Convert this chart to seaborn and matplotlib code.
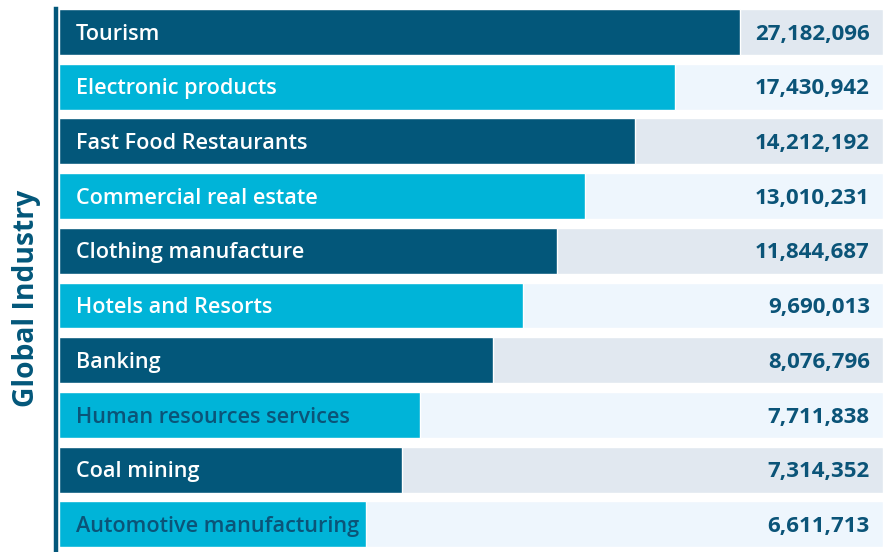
import matplotlib
matplotlib.use("Agg")
import matplotlib.pyplot as plt
import seaborn as sns
import pandas as pd

industries = [
    "Tourism",
    "Electronic products",
    "Fast Food Restaurants",
    "Commercial real estate",
    "Clothing manufacture",
    "Hotels and Resorts",
    "Banking",
    "Human resources services",
    "Coal mining",
    "Automotive manufacturing",
]
totals = [27182096, 17430942, 14212192, 13010231, 11844687,
          9690013, 8076796, 7711838, 7314352, 6611713]
# bar lengths as drawn, in % of the full row width
bar_share = [82.7, 74.8, 69.9, 63.8, 60.4, 56.3, 52.7, 43.8, 41.6, 37.3]

DARK = "#03577a"
CYAN = "#00b4d8"
BAND_DARK = "#e1e8f0"
BAND_LIGHT = "#eef6fd"
TEXT_DARK = "#0b5478"

df = pd.DataFrame({"industry": industries, "total": totals, "share": bar_share})
df["tone"] = ["dark" if i % 2 == 0 else "light" for i in range(len(df))]
df["full"] = 100

sns.set_theme(style="white")
plt.rcParams["font.family"] = ["Open Sans", "DejaVu Sans"]

fig = plt.figure(figsize=(8.85, 5.52), dpi=100)
ax = fig.add_axes([59 / 885, 0, 824 / 885, 1])

# background bands
sns.barplot(data=df, y="industry", x="full", hue="tone", dodge=False,
            palette={"dark": BAND_DARK, "light": BAND_LIGHT},
            width=0.84, saturation=1, legend=False, ax=ax)
# bars
sns.barplot(data=df, y="industry", x="share", hue="tone", dodge=False,
            palette={"dark": DARK, "light": CYAN},
            width=0.84, saturation=1, legend=False, ax=ax)

for i, row in df.iterrows():
    col = "white"
    if row["tone"] == "light" and row["share"] < 50:
        col = TEXT_DARK
    ax.text(2.05, i + 0.04, row["industry"], color=col, fontsize=15.6,
            va="center", ha="left", fontweight="semibold")
    ax.text(98.4, i + 0.04, f"{row['total']:,}", color=TEXT_DARK, fontsize=16,
            va="center", ha="right", fontweight="bold")

ax.set_xlim(0, 100)
ax.set_ylim(9.506, -0.585)
ax.set_xticks([])
ax.set_yticks([])
ax.set_xlabel("")
ax.set_ylabel("")
for s in ["top", "right", "bottom"]:
    ax.spines[s].set_visible(False)
ax.spines["left"].set_color(DARK)
ax.spines["left"].set_linewidth(3.2)
ax.spines["left"].set_position(("outward", 2.5))
ax.spines["left"].set_bounds(-0.42, 9.506)

fig.text(27 / 885, 1 - 298 / 552, "Global Industry", rotation=90,
         color=DARK, fontsize=20.3, fontweight="bold", ha="center", va="center")

fig.savefig("out.png", dpi=100)
